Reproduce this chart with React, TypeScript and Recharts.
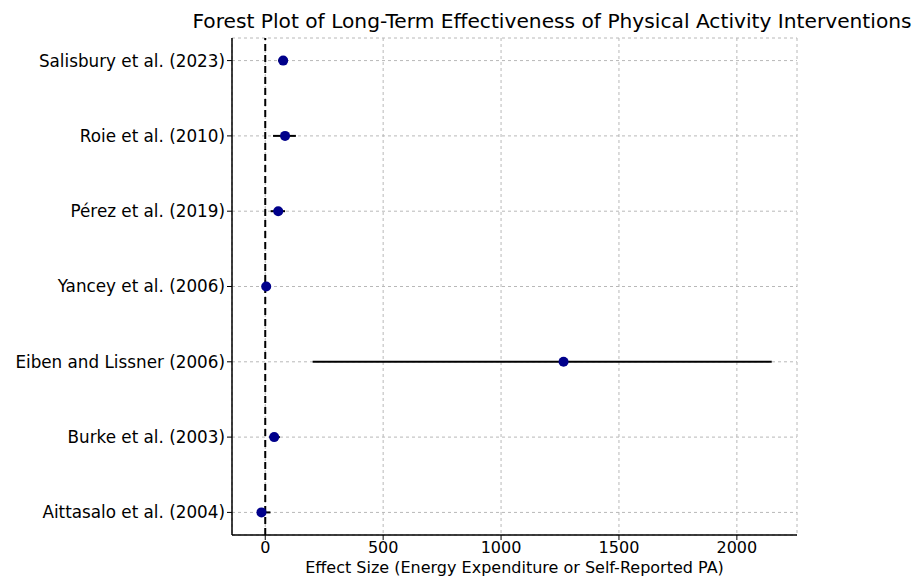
import { ScatterChart, Scatter, XAxis, YAxis, CartesianGrid, ReferenceLine, ErrorBar, Label } from 'recharts';

// studies listed top to bottom as in the plot
const studies = [
  'Salisbury et al. (2023)',
  'Roie et al. (2010)',
  'Pérez et al. (2019)',
  'Yancey et al. (2006)',
  'Eiben and Lissner (2006)',
  'Burke et al. (2003)',
  'Aittasalo et al. (2004)',
];
const effect = [76, 84, 55, 4, 1265, 38, -16];
const ciLow = [54, 33, 23, -2, 201, 17, -34];
const ciHigh = [96, 130, 84, 10, 2148, 62, 22];
const xTicks = [0, 500, 1000, 1500, 2000];

const FONT = '"DejaVu Sans", sans-serif';

export default function App() {
  const n = studies.length;
  const data = studies.map((name, i) => ({
    name,
    pos: n - 1 - i,
    effect: effect[i],
    err: [effect[i] - ciLow[i], ciHigh[i] - effect[i]],
  }));
  const yTicks = data.map((d) => d.pos);

  return (
    <div style={{ position: 'relative', width: 913, height: 568, fontFamily: FONT }}>
      <div
        style={{
          position: 'absolute',
          left: 0,
          top: 1,
          width: 1088,
          textAlign: 'center',
          fontSize: 20.2,
          color: '#000',
          whiteSpace: 'nowrap',
        }}
      >
        Forest Plot of Long-Term Effectiveness of Physical Activity Interventions
      </div>
      <ScatterChart width={913} height={568} margin={{ top: 30, right: 124, bottom: 0, left: 0 }}>
        <CartesianGrid stroke="#b8b8b8" strokeDasharray="3 3" />
        <XAxis
          type="number"
          dataKey="effect"
          domain={[-141, 2255]}
          ticks={xTicks}
          allowDataOverflow
          height={41}
          tick={{ fontSize: 16, fill: '#000', fontFamily: FONT }}
          tickSize={5}
          axisLine={{ stroke: '#000', strokeWidth: 1.5 }}
          tickLine={{ stroke: '#000' }}
        >
          <Label
            value="Effect Size (Energy Expenditure or Self-Reported PA)"
            position="insideBottom"
            offset={3}
            style={{ fontSize: 16, fill: '#000', fontFamily: FONT }}
          />
        </XAxis>
        <YAxis
          type="number"
          dataKey="pos"
          domain={[-0.3, n - 0.7]}
          ticks={yTicks}
          width={224}
          tickFormatter={(v: number) => studies[n - 1 - v]}
          tick={{ fontSize: 16.8, fill: '#000', fontFamily: FONT }}
          tickSize={5}
          axisLine={{ stroke: '#000', strokeWidth: 1.5 }}
          tickLine={{ stroke: '#000' }}
        />
        <ReferenceLine x={0} stroke="#000" strokeWidth={2} strokeDasharray="7 4" />
        <Scatter data={data} fill="#00008b" isAnimationActive={false} shape={(p: any) => <circle cx={p.cx} cy={p.cy} r={5} fill="#00008b" />}>
          <ErrorBar dataKey="err" direction="x" width={0} stroke="#000" strokeWidth={2} isAnimationActive={false} />
        </Scatter>
      </ScatterChart>
    </div>
  );
}
